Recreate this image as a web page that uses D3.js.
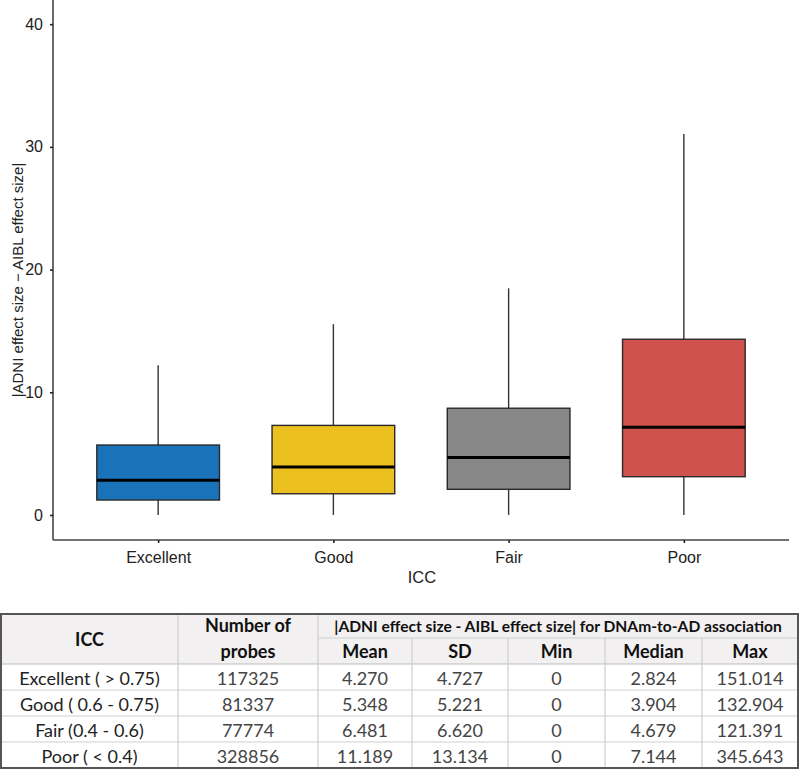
<!DOCTYPE html>
<html><head><meta charset="utf-8">
<script src="https://cdn.jsdelivr.net/npm/d3@7/dist/d3.min.js"></script>
<style>body{margin:0;background:#fff}svg{display:block}</style>
</head><body>
<svg id="c" width="800" height="770"></svg>
<script>
// ---- chart data ----
const categories = ["Excellent", "Good", "Fair", "Poor"];
const whiskerLow = [0, 0, 0, 0];
const q1 = [1.22, 1.73, 2.09, 3.12];
const medianBox = [2.82, 3.90, 4.68, 7.14];
const q3 = [5.70, 7.30, 8.70, 14.32];
const whiskerHigh = [12.2, 15.55, 18.47, 31.05];
const boxColors = ["#1a72b8", "#ecc11f", "#878787", "#cf534c"];
const yTicks = [0, 10, 20, 30, 40];

// ---- table data ----
const tableLabels = ["Excellent ( > 0.75)", "Good ( 0.6 - 0.75)", "Fair (0.4 - 0.6)", "Poor ( < 0.4)"];
const nProbes = ["117325", "81337", "77774", "328856"];
const means = ["4.270", "5.348", "6.481", "11.189"];
const sds = ["4.727", "5.221", "6.620", "13.134"];
const mins = ["0", "0", "0", "0"];
const medians = ["2.824", "3.904", "4.679", "7.144"];
const maxs = ["151.014", "132.904", "121.391", "345.643"];
const statHeaders = ["Mean", "SD", "Min", "Median", "Max"];

const svg = d3.select("#c");
const pLeft = 53, pRight = 789, pTop = 0, pBottom = 540;
const x = d3.scalePoint().domain(categories).range([pLeft, pRight]).padding(0.6);
const y = d3.scaleLinear().domain([-2.04, 41.97]).range([pBottom, pTop]);
const boxW = x.step() * 0.70;

const axisFont = "'Liberation Sans', Arial, sans-serif";

// axes
const yAxis = svg.append("g").attr("transform", `translate(${pLeft},0)`)
  .call(d3.axisLeft(y).tickValues(yTicks).tickSize(3).tickPadding(7));
const xAxis = svg.append("g").attr("transform", `translate(0,${pBottom})`)
  .call(d3.axisBottom(x).tickSize(3).tickPadding(9));
[yAxis, xAxis].forEach(g => {
  g.select(".domain").attr("stroke", "#444").attr("stroke-width", 1.6);
  g.selectAll(".tick line").attr("stroke", "#222").attr("stroke-width", 1.6);
  g.selectAll(".tick text").attr("font-family", axisFont).attr("font-size", 16).attr("fill", "#222");
});
yAxis.select(".domain").attr("d", `M0,${pTop}V${pBottom}`);
xAxis.select(".domain").attr("d", `M${pLeft},0H${pRight}`);

svg.append("text").attr("x", 422).attr("y", 583).attr("text-anchor", "middle")
  .attr("font-family", axisFont).attr("font-size", 16.5).attr("fill", "#222").text("ICC");
svg.append("text").attr("transform", "translate(23,280) rotate(-90)").attr("text-anchor", "middle")
  .attr("font-family", axisFont).attr("font-size", 15).attr("fill", "#222")
  .text("|ADNI effect size \u2212 AIBL effect size|");

// boxes
const gb = svg.append("g");
categories.forEach((c, i) => {
  const cx = x(c);
  gb.append("line").attr("x1", cx).attr("x2", cx).attr("y1", y(q3[i])).attr("y2", y(whiskerHigh[i]))
    .attr("stroke", "#333").attr("stroke-width", 1.4);
  gb.append("line").attr("x1", cx).attr("x2", cx).attr("y1", y(q1[i])).attr("y2", y(whiskerLow[i]))
    .attr("stroke", "#333").attr("stroke-width", 1.4);
  gb.append("rect").attr("x", cx - boxW / 2).attr("width", boxW)
    .attr("y", y(q3[i])).attr("height", y(q1[i]) - y(q3[i]))
    .attr("fill", boxColors[i]).attr("stroke", "#2a2a2a").attr("stroke-width", 1.4);
  gb.append("line").attr("x1", cx - boxW / 2).attr("x2", cx + boxW / 2)
    .attr("y1", y(medianBox[i])).attr("y2", y(medianBox[i]))
    .attr("stroke", "#000").attr("stroke-width", 3);
});

// ---- table ----
const tf = "Lato, 'Open Sans', sans-serif";
const colX = [1, 178, 318, 412, 508, 605, 702, 798];
const rowY = [664, 690, 716, 742, 768];
const tTop = 614, tSub = 638;
const t = svg.append("g");
t.append("rect").attr("x", colX[0]).attr("y", tTop).attr("width", colX[7] - colX[0]).attr("height", rowY[0] - tTop).attr("fill", "#f2f0f0");
const lineC = "#cfcfcf";
rowY.slice(1, 4).forEach(yy => t.append("line").attr("x1", colX[0]).attr("x2", colX[7]).attr("y1", yy).attr("y2", yy).attr("stroke", lineC).attr("stroke-width", 1.2));
t.append("line").attr("x1", colX[0]).attr("x2", colX[7]).attr("y1", rowY[0]).attr("y2", rowY[0]).attr("stroke", "#bbb").attr("stroke-width", 1.2);
t.append("line").attr("x1", colX[2]).attr("x2", colX[7]).attr("y1", tSub).attr("y2", tSub).attr("stroke", lineC).attr("stroke-width", 1.2);
[1, 2].forEach(k => t.append("line").attr("x1", colX[k]).attr("x2", colX[k]).attr("y1", tTop).attr("y2", rowY[4]).attr("stroke", lineC).attr("stroke-width", 1.2));
[3, 4, 5, 6].forEach(k => t.append("line").attr("x1", colX[k]).attr("x2", colX[k]).attr("y1", tSub).attr("y2", rowY[4]).attr("stroke", lineC).attr("stroke-width", 1.2));
t.append("rect").attr("x", colX[0]).attr("y", tTop).attr("width", colX[7] - colX[0]).attr("height", rowY[4] - tTop)
  .attr("fill", "none").attr("stroke", "#555").attr("stroke-width", 2);

function txt(xx, yy, s, opts = {}) {
  t.append("text").attr("x", xx).attr("y", yy).attr("text-anchor", "middle").attr("dominant-baseline", "central")
    .attr("font-family", tf).attr("font-size", opts.size || 18).attr("font-weight", opts.bold ? 700 : 400)
    .attr("fill", opts.fill || "#333").text(s);
}
const mid = k => (colX[k] + colX[k + 1]) / 2;
txt(mid(0), (tTop + rowY[0]) / 2, "ICC", { bold: true, fill: "#111" });
txt(mid(1), 625, "Number of", { bold: true, fill: "#111" });
txt(mid(1), 651, "probes", { bold: true, fill: "#111" });
txt((colX[2] + colX[7]) / 2, 626, "|ADNI effect size - AIBL effect size| for DNAm-to-AD association", { bold: true, fill: "#111", size: 15.6 });
statHeaders.forEach((h, k) => txt(mid(k + 2), 651, h, { bold: true, fill: "#111" }));
const cols = [tableLabels, nProbes, means, sds, mins, medians, maxs];
tableLabels.forEach((_, r) => {
  const cy = (rowY[r] + rowY[r + 1]) / 2 + 0.5;
  cols.forEach((arr, k) => txt(mid(k), cy, arr[r], { fill: k === 0 ? "#222" : "#444" }));
});
</script>
</body></html>
